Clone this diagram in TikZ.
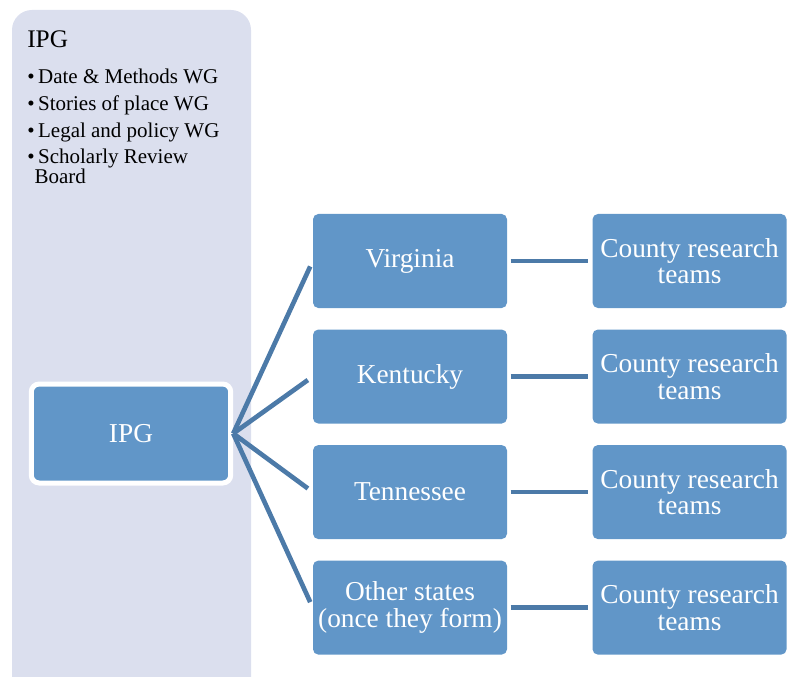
\documentclass[tikz,border=0pt]{standalone}
\usepackage{fontspec}
\setmainfont{Liberation Serif}
\usetikzlibrary{positioning}
\definecolor{panelbg}{RGB}{219,223,238}
\definecolor{boxblue}{RGB}{97,150,200}
\definecolor{linkblue}{RGB}{76,122,168}

\begin{document}
\begin{tikzpicture}[x=0.75pt,y=-0.75pt,
	box/.style={fill=boxblue,rounded corners=4pt,minimum width=145.5pt,minimum height=70.5pt,inner sep=0pt,align=center,text=white,font=\fontsize{20.5}{20}\selectfont},
	link/.style={draw=linkblue,line width=3.5pt}]
	\clip (0,0) rectangle (788,677);
	\fill [panelbg,rounded corners=15pt] (12,10) rectangle (251,720);
	\node [anchor=base west,inner sep=0pt,font=\fontsize{19}{20}\selectfont] (title) at (27,48) {IPG};
	\node [anchor=north west,inner sep=0pt,align=left,font=\fontsize{15.75}{15}\selectfont] (wglist) at (27,69) {\textbullet\,Date \& Methods WG\\[5pt]\textbullet\,Stories of place WG\\[5pt]\textbullet\,Legal and policy WG\\[5pt]\textbullet\,Scholarly Review\\\hphantom{\textbullet}Board};
	\node [box,draw=white,line width=3.75pt,minimum width=149.6pt,minimum height=74.25pt,rounded corners=6pt] (ipg) at (131,433.5) {IPG};
	\node [box] (va) at (410,261) {Virginia};
	\node [box,below=15.75pt of va] (ky) {Kentucky};
	\node [box,below=15.75pt of ky] (tn) {Tennessee};
	\node [box,below=15.75pt of tn] (other) {Other states\\(once they form)};
	\node [box,right=63.75pt of va] (cva) {County research\\teams};
	\node [box,right=63.75pt of ky] (cky) {County research\\teams};
	\node [box,right=63.75pt of tn] (ctn) {County research\\teams};
	\node [box,right=63.75pt of other] (cother) {County research\\teams};
	\foreach \s in {va,ky,tn,other}
		\draw [link,shorten >=4.5pt] (ipg.east) -- (\s.west);
	\foreach \s in {va,ky,tn,other}
		\draw [link,shorten <=2.5pt,shorten >=3.5pt] (\s.east) -- (c\s.west);
\end{tikzpicture}
\end{document}
